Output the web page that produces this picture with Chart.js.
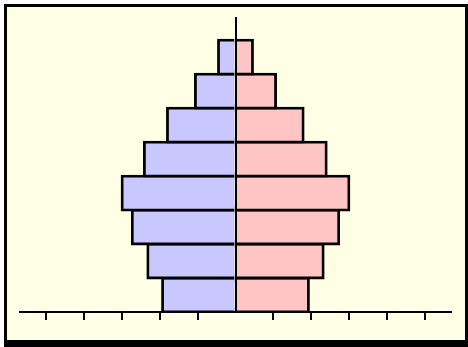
<!DOCTYPE html>
<html><head><meta charset="utf-8">
<script src="https://cdn.jsdelivr.net/npm/chart.js@4/dist/chart.umd.min.js"></script>
<style>
html,body{margin:0;padding:0;background:#fff;width:468px;height:347px;overflow:hidden}
#frame{position:absolute;left:4px;top:4px;width:458px;height:333px;border-style:solid;border-color:#000;border-width:3px 3px 7px 3px;background:#ffffe5}
canvas{display:block}
</style></head><body>
<div id="frame"><canvas id="c" width="458" height="333"></canvas></div>
<script>
// Age groups, bottom to top
const ageGroups = ['0–9', '10–19', '20–29', '30–39', '40–49', '50–59', '60–69', '70+'];
// Population share per group (axis units)
const maleValues   = [1.93, 2.32, 2.73, 3.00, 2.41, 1.80, 1.06, 0.45];
const femaleValues = [1.93, 2.32, 2.73, 3.00, 2.40, 1.79, 1.06, 0.45];
// Axis extent and tick step
const xLimit = 5.7;
const xTickStep = 1;

const barStyle = {
  borderColor: '#000',
  borderWidth: 2.8,
  inflateAmount: 1.4,
  barPercentage: 1,
  categoryPercentage: 1
};

new Chart(document.getElementById('c'), {
  type: 'bar',
  data: {
    datasets: [
      Object.assign({
        label: 'Male',
        data: ageGroups.map((g, i) => ({ x: -maleValues[i], y: i + 1 })),
        backgroundColor: '#c8c8ff'
      }, barStyle),
      Object.assign({
        label: 'Female',
        data: ageGroups.map((g, i) => ({ x: femaleValues[i], y: i + 1 })),
        backgroundColor: '#ffc4c4'
      }, barStyle)
    ]
  },
  options: {
    indexAxis: 'y',
    responsive: false,
    animation: false,
    events: [],
    layout: { padding: { left: 13, right: 14, top: 11, bottom: 20 } },
    plugins: { legend: { display: false }, tooltip: { enabled: false } },
    scales: {
      x: {
        type: 'linear', min: -xLimit, max: xLimit, stacked: true, offset: false,
        ticks: { display: false, stepSize: xTickStep, includeBounds: false },
        grid: {
          display: true, offset: false, drawOnChartArea: false, drawTicks: true, tickLength: 8, lineWidth: 2,
          color: c => (c.tick && c.tick.value === 0) ? 'rgba(0,0,0,0)' : '#000'
        },
        border: { display: true, color: '#000', width: 2, z: 1 }
      },
      y: {
        type: 'linear', min: 0.5, max: ageGroups.length + 1.15, stacked: true, offset: false,
        position: { x: 0 },
        ticks: { display: false, stepSize: 1, includeBounds: false },
        grid: { display: false, offset: false, drawTicks: false },
        border: { display: true, color: '#000', width: 2, z: 1 }
      }
    }
  }
});
</script>
</body></html>
